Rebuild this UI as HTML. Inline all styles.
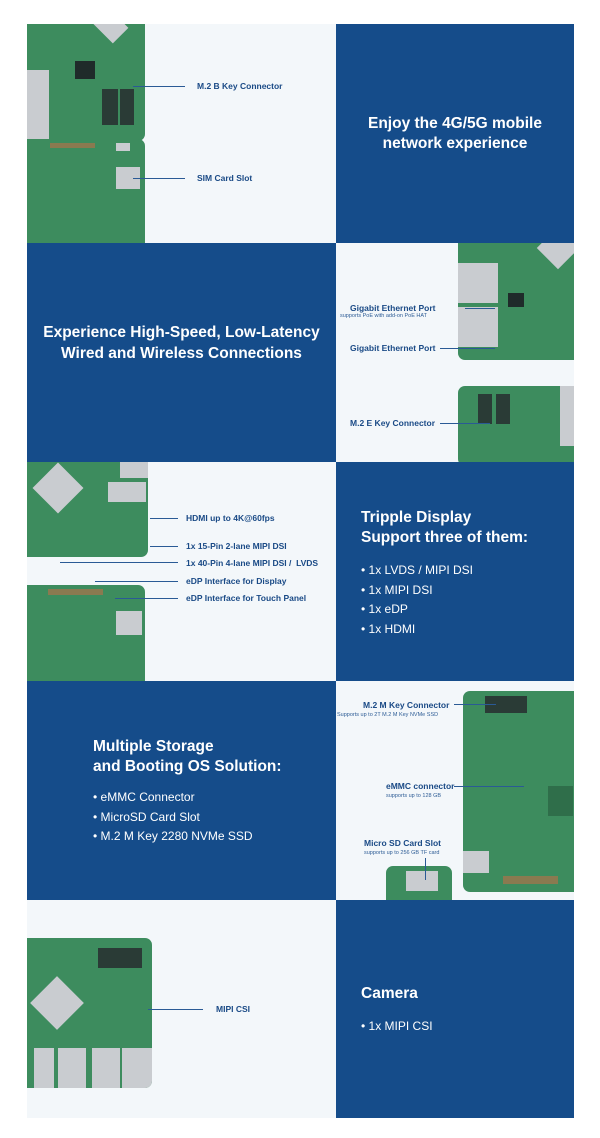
<!DOCTYPE html><html><head><style>
*{margin:0;padding:0;box-sizing:border-box}
body{width:600px;height:1138px;background:#fff;position:relative;overflow:hidden;font-family:"Liberation Sans",sans-serif}
.a{position:absolute;overflow:hidden}
.blue{background:#154c8a}
.lt{background:#f3f7fa}
.g{position:absolute;background:#3d8c5e;border-radius:7px;overflow:hidden}
.g i{position:absolute;background:#1f2b2a}
.g b{position:absolute;background:#c9ccd0}
.h{position:absolute;color:#fff;font-weight:bold}
.l{position:absolute;color:#1a4a86;font-weight:bold;font-size:8.5px;white-space:nowrap}
.s{position:absolute;color:#2e5d96;font-size:5.5px;white-space:nowrap}
.ln{position:absolute;height:1px;background:#2a5a95}
.vl{position:absolute;width:1px;background:#2a5a95}
.w{color:#fff;font-size:12px;position:absolute;line-height:19.5px}
</style></head><body>
<div class="a lt" style="left:27px;top:24px;width:309px;height:219px">
 <div class="g" style="left:-7px;top:-10px;width:125px;height:127px;border-radius:0 0 7px 0"><b style="left:7px;top:56px;width:22px;height:70px"></b><b style="left:75px;top:0;width:30px;height:22px;transform:rotate(45deg)"></b><i style="left:55px;top:47px;width:20px;height:18px"></i><i style="left:82px;top:75px;width:16px;height:36px;background:#2a3b36"></i><i style="left:100px;top:75px;width:14px;height:36px;background:#2a3b36"></i></div>
 <div class="g" style="left:-7px;top:115px;width:125px;height:110px;border-radius:0 7px 0 0"><b style="left:96px;top:28px;width:24px;height:22px"></b><i style="left:30px;top:4px;width:45px;height:5px;background:#8a7a50"></i><b style="left:96px;top:4px;width:14px;height:8px"></b></div>
</div>
<div class="a blue" style="left:336px;top:24px;width:238px;height:219px"></div>
<div class="a blue" style="left:27px;top:243px;width:309px;height:219px"></div>
<div class="a lt" style="left:336px;top:243px;width:238px;height:219px">
 <div class="g" style="left:122px;top:0;width:124px;height:117px;border-radius:0 0 0 7px"><b style="left:0;top:20px;width:40px;height:40px"></b><b style="left:0;top:64px;width:40px;height:40px"></b><b style="left:85px;top:-10px;width:30px;height:30px;transform:rotate(45deg)"></b><i style="left:50px;top:50px;width:16px;height:14px"></i></div>
 <div class="g" style="left:122px;top:143px;width:124px;height:80px"><i style="left:20px;top:8px;width:14px;height:30px;background:#2a3b36"></i><i style="left:38px;top:8px;width:14px;height:30px;background:#2a3b36"></i><b style="left:102px;top:0;width:14px;height:60px"></b></div>
</div>
<div class="a lt" style="left:27px;top:462px;width:309px;height:219px">
 <div class="g" style="left:-7px;top:-10px;width:128px;height:105px;border-radius:0 0 7px 0"><b style="left:20px;top:18px;width:36px;height:36px;transform:rotate(45deg)"></b><b style="left:88px;top:30px;width:38px;height:20px"></b><b style="left:100px;top:10px;width:28px;height:16px"></b></div>
 <div class="g" style="left:-7px;top:123px;width:125px;height:110px;border-radius:0 7px 0 0"><i style="left:28px;top:4px;width:55px;height:6px;background:#8a7a50"></i><b style="left:96px;top:26px;width:26px;height:24px"></b></div>
</div>
<div class="a blue" style="left:336px;top:462px;width:238px;height:219px"></div>
<div class="a blue" style="left:27px;top:681px;width:309px;height:219px"></div>
<div class="a lt" style="left:336px;top:681px;width:238px;height:219px">
 <div class="g" style="left:127px;top:10px;width:120px;height:201px"><i style="left:22px;top:5px;width:42px;height:17px;background:#2a3b36"></i><b style="left:0;top:160px;width:26px;height:22px"></b><i style="left:40px;top:185px;width:55px;height:8px;background:#8a7a50"></i><i style="left:85px;top:95px;width:25px;height:30px;background:#2f6e4a"></i></div>
 <div class="g" style="left:50px;top:185px;width:66px;height:45px;border-radius:7px 7px 0 0"><b style="left:20px;top:5px;width:32px;height:20px"></b></div>
</div>
<div class="a lt" style="left:27px;top:900px;width:309px;height:218px">
 <div class="g" style="left:-7px;top:38px;width:132px;height:150px"><b style="left:18px;top:46px;width:38px;height:38px;transform:rotate(45deg)"></b><i style="left:78px;top:10px;width:44px;height:20px;background:#2a3b36"></i><b style="left:38px;top:110px;width:28px;height:40px"></b><b style="left:72px;top:110px;width:28px;height:40px"></b><b style="left:102px;top:110px;width:30px;height:40px"></b><b style="left:14px;top:110px;width:20px;height:40px"></b></div>
</div>
<div class="a blue" style="left:336px;top:900px;width:238px;height:218px"></div>

<div class="ln" style="left:133px;top:86px;width:52px"></div>
<div class="l" style="left:197px;top:81px">M.2 B Key Connector</div>
<div class="ln" style="left:133px;top:178px;width:52px"></div>
<div class="l" style="left:197px;top:173px">SIM Card Slot</div>
<div class="h" style="left:336px;top:114px;width:238px;text-align:center;font-size:15.5px;line-height:20px">Enjoy the 4G/5G mobile<br>network experience</div>

<div class="h" style="left:27px;top:322px;width:309px;text-align:center;font-size:15.5px;line-height:21px">Experience High-Speed, Low-Latency<br>Wired and Wireless Connections</div>
<div class="l" style="left:350px;top:303px">Gigabit Ethernet Port</div>
<div class="s" style="left:340px;top:313px">supports PoE with add-on PoE HAT</div>
<div class="ln" style="left:465px;top:308px;width:30px"></div>
<div class="l" style="left:350px;top:343px">Gigabit Ethernet Port</div>
<div class="ln" style="left:440px;top:348px;width:55px"></div>
<div class="l" style="left:350px;top:418px">M.2 E Key Connector</div>
<div class="ln" style="left:440px;top:423px;width:50px"></div>

<div class="ln" style="left:150px;top:518px;width:28px"></div>
<div class="l" style="left:186px;top:513px">HDMI up to 4K@60fps</div>
<div class="ln" style="left:150px;top:546px;width:28px"></div>
<div class="l" style="left:186px;top:541px">1x 15-Pin 2-lane MIPI DSI</div>
<div class="ln" style="left:60px;top:562px;width:118px"></div>
<div class="l" style="left:186px;top:558px">1x 40-Pin 4-lane MIPI DSI / &nbsp;LVDS</div>
<div class="ln" style="left:95px;top:581px;width:83px"></div>
<div class="l" style="left:186px;top:576px">eDP Interface for Display</div>
<div class="ln" style="left:115px;top:598px;width:63px"></div>
<div class="l" style="left:186px;top:593px">eDP Interface for Touch Panel</div>
<div class="h" style="left:361px;top:508px;font-size:15.5px;line-height:20px">Tripple Display<br>Support three of them:</div>
<div class="w" style="left:361px;top:561px">• 1x LVDS / MIPI DSI<br>• 1x MIPI DSI<br>• 1x eDP<br>• 1x HDMI</div>

<div class="h" style="left:93px;top:737px;font-size:15.5px;line-height:20px">Multiple Storage<br>and Booting OS Solution:</div>
<div class="w" style="left:93px;top:788px">• eMMC Connector<br>• MicroSD Card Slot<br>• M.2 M Key 2280 NVMe SSD</div>
<div class="l" style="left:363px;top:700px">M.2 M Key Connector</div>
<div class="s" style="left:337px;top:712px">Supports up to 2T M.2 M Key NVMe SSD</div>
<div class="ln" style="left:454px;top:704px;width:42px"></div>
<div class="l" style="left:386px;top:781px">eMMC connector</div>
<div class="s" style="left:386px;top:793px">supports up to 128 GB</div>
<div class="ln" style="left:454px;top:786px;width:70px"></div>
<div class="l" style="left:364px;top:838px">Micro SD Card Slot</div>
<div class="s" style="left:364px;top:850px">supports up to 256 GB TF card</div>
<div class="vl" style="left:425px;top:858px;height:22px"></div>

<div class="ln" style="left:148px;top:1009px;width:55px"></div>
<div class="l" style="left:216px;top:1004px">MIPI CSI</div>
<div class="h" style="left:361px;top:985px;font-size:15.5px">Camera</div>
<div class="w" style="left:361px;top:1017px">• 1x MIPI CSI</div>
</body></html>
